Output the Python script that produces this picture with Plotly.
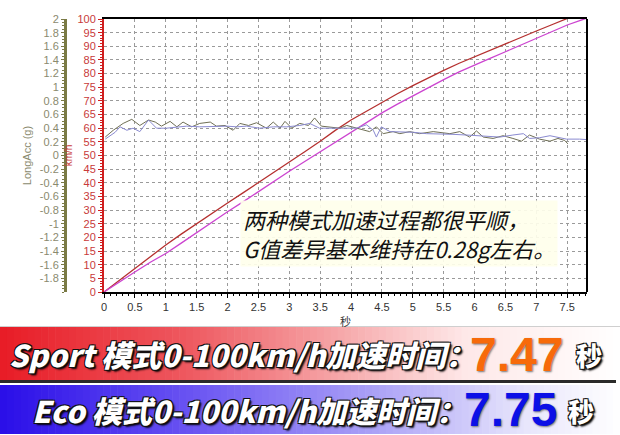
import plotly.graph_objects as go

# ---------------- data ----------------
t_speed = [0, 0.25, 0.5, 0.75, 1.0, 1.25, 1.5, 1.75, 2.0, 2.25, 2.5, 2.75, 3.0, 3.25, 3.5, 3.75,
           4.0, 4.25, 4.5, 4.75, 5.0, 5.25, 5.5, 5.75, 6.0, 6.25, 6.5, 6.75, 7.0, 7.25, 7.5, 7.75, 7.85]
speed_sport = [0, 4.3, 8.7, 13.0, 17.2, 21.2, 25.1, 28.9, 32.6, 36.3, 40.0, 43.7, 47.5, 51.4, 55.2, 59.3,
               63.0, 66.3, 69.4, 72.6, 75.6, 78.5, 81.2, 83.8, 86.2, 88.6, 91.0, 93.3, 95.6, 97.9, 100.2, 102.5, 103.4]
speed_eco = [0, 3.5, 7.3, 10.9, 14.1, 17.9, 21.8, 25.7, 29.4, 33.0, 36.8, 40.6, 44.2, 47.8, 51.4, 55.0,
             58.5, 62.1, 65.6, 68.8, 71.9, 74.9, 77.8, 80.6, 83.2, 85.6, 88.0, 90.5, 92.9, 95.4, 97.8, 99.8, 100.6]

t_g_gray = [0.02, 0.15, 0.31, 0.45, 0.58, 0.72, 0.83, 0.93, 1.07, 1.18, 1.28, 1.42, 1.55, 1.72, 1.82, 1.96,
            2.09, 2.20, 2.34, 2.47, 2.63, 2.74, 2.85, 2.93, 3.04, 3.17, 3.31, 3.41, 3.52, 3.66, 3.82, 3.93,
            4.09, 4.20, 4.30, 4.41, 4.52, 4.68, 4.79, 4.95, 5.11, 5.33, 5.60, 5.76, 5.92, 6.03, 6.14, 6.30,
            6.46, 6.62, 6.76, 6.89, 7.05, 7.22, 7.35, 7.46, 7.51]
g_gray = [0.27, 0.37, 0.47, 0.53, 0.44, 0.52, 0.49, 0.43, 0.50, 0.42, 0.49, 0.42, 0.47, 0.49, 0.43, 0.44,
          0.37, 0.47, 0.44, 0.48, 0.40, 0.49, 0.40, 0.50, 0.40, 0.47, 0.44, 0.55, 0.43, 0.42, 0.40, 0.44,
          0.40, 0.37, 0.35, 0.42, 0.32, 0.35, 0.32, 0.35, 0.32, 0.35, 0.32, 0.35, 0.27, 0.36, 0.27, 0.25,
          0.29, 0.25, 0.21, 0.30, 0.24, 0.21, 0.25, 0.22, 0.17]

t_g_blue = [0.02, 0.18, 0.26, 0.37, 0.47, 0.58, 0.72, 0.85, 1.01, 1.18, 1.34, 1.55, 1.77, 1.99, 2.15, 2.31,
            2.52, 2.74, 2.96, 3.17, 3.33, 3.49, 3.71, 3.93, 4.09, 4.25, 4.36, 4.41, 4.49, 4.63, 4.79, 5.01,
            5.22, 5.44, 5.65, 5.87, 6.03, 6.19, 6.41, 6.62, 6.79, 6.89, 7.05, 7.22, 7.38, 7.49, 7.70, 7.86]
g_blue = [0.24, 0.34, 0.42, 0.37, 0.40, 0.35, 0.52, 0.40, 0.40, 0.42, 0.43, 0.42, 0.43, 0.43, 0.42, 0.43,
          0.40, 0.42, 0.42, 0.44, 0.47, 0.40, 0.40, 0.40, 0.40, 0.45, 0.37, 0.27, 0.42, 0.35, 0.35, 0.34,
          0.32, 0.32, 0.31, 0.30, 0.29, 0.29, 0.27, 0.30, 0.32, 0.25, 0.26, 0.29, 0.26, 0.24, 0.24, 0.23]

x_ticks = [0, 0.5, 1, 1.5, 2, 2.5, 3, 3.5, 4, 4.5, 5, 5.5, 6, 6.5, 7, 7.5]
x_labels = ["0", "0.5", "1", "1.5", "2", "2.5", "3", "3.5", "4", "4.5", "5", "5.5", "6", "6.5", "7", "7.5"]
speed_ticks = list(range(0, 101, 5))
g_ticks = [-1.8, -1.6, -1.4, -1.2, -1, -0.8, -0.6, -0.4, -0.2, 0, 0.2, 0.4, 0.6, 0.8, 1, 1.2, 1.4, 1.6, 1.8, 2]
g_labels = ["-1.8", "-1.6", "-1.4", "-1.2", "-1", "-0.8", "-0.6", "-0.4", "-0.2", "0",
            "0.2", "0.4", "0.6", "0.8", "1", "1.2", "1.4", "1.6", "1.8", "2"]

note_text = "两种模式加速过程都很平顺，<br>G值差异基本维持在0.28g左右。"
sport_label = "Sport 模式0-100km/h加速时间："
eco_label = "Eco 模式0-100km/h加速时间："
sport_time = "7.47"
eco_time = "7.75"
unit = "秒"

# ---------------- layout helpers ----------------
W, H = 620, 435
def px(x):
    return x / W
def py(y):
    return 1 - y / H

fig = go.Figure()

fig.add_trace(go.Scatter(x=t_g_gray, y=g_gray, yaxis="y2", mode="lines",
                         line=dict(color="#6f6f55", width=1), showlegend=False))
fig.add_trace(go.Scatter(x=t_g_blue, y=g_blue, yaxis="y2", mode="lines",
                         line=dict(color="#8a8ad0", width=1), showlegend=False))
fig.add_trace(go.Scatter(x=t_speed, y=speed_sport, mode="lines",
                         line=dict(color="#b5302f", width=1.3), showlegend=False))
fig.add_trace(go.Scatter(x=t_speed, y=speed_eco, mode="lines",
                         line=dict(color="#cc44d0", width=1.3), showlegend=False))

x_dom = [px(104), px(587)]
y_dom = [py(292), py(19)]

fig.update_layout(
    width=W, height=H,
    margin=dict(l=0, r=0, t=0, b=0),
    paper_bgcolor="white", plot_bgcolor="white",
    font=dict(family="Liberation Sans, Arial", size=11, color="#333"),
    xaxis=dict(domain=x_dom, range=[0, 7.82], tickvals=x_ticks, ticktext=x_labels, automargin=False,
               showline=True, linecolor="black", linewidth=2, mirror=True,
               ticks="outside", ticklen=4, tickcolor="black",
               minor=dict(dtick=0.1, ticks="outside", ticklen=2, tickcolor="black", showgrid=False),
               showgrid=True, gridcolor="#9a9a9a", gridwidth=1, griddash="3px,3px",
               zeroline=False, tickfont=dict(size=11, color="#333"),
               title=dict(text="秒", font=dict(family="Noto Sans CJK SC", size=11, color="#333"), standoff=4)),
    yaxis=dict(domain=y_dom, range=[0, 100], tickvals=speed_ticks, automargin=False,
               showline=True, linecolor="#d02020", linewidth=2,
               ticks="outside", ticklen=4, tickcolor="#d02020",
               minor=dict(dtick=1, ticks="outside", ticklen=2, tickcolor="#d02020", showgrid=False),
               showgrid=True, gridcolor="#9a9a9a", gridwidth=1, griddash="3px,3px",
               zeroline=False, tickfont=dict(size=11, color="#c83a3a"),
               title=dict(text="km/h", font=dict(size=10, color="#c83a3a"), standoff=3)),
    yaxis2=dict(overlaying="y", anchor="free", position=px(65), side="left", automargin=False,
                range=[-2, 2], tickvals=g_ticks, ticktext=g_labels,
                showline=True, linecolor="#7a7a45", linewidth=3,
                ticks="outside", ticklen=3, tickcolor="#7a7a45",
                minor=dict(dtick=0.05, ticks="outside", ticklen=2, tickcolor="#7a7a45", showgrid=False),
                showgrid=False, zeroline=False, tickfont=dict(size=11, color="#8a8a6e"),
                title=dict(text="LongAcc (g)", font=dict(size=11, color="#8a8a6e"), standoff=4)),
)

shapes = []
# right border of plot area
shapes.append(dict(type="line", xref="x domain", yref="y domain", x0=1, x1=1, y0=0, y1=1,
                   line=dict(color="black", width=2)))

# gradient banners
def lerp_stops(stops, f):
    for (f0, c0), (f1, c1) in zip(stops[:-1], stops[1:]):
        if f0 <= f <= f1:
            k = (f - f0) / (f1 - f0) if f1 > f0 else 0
            return tuple(int(round(a + (b - a) * k)) for a, b in zip(c0, c1))
    return stops[-1][1]

sport_stops = [(0, (232, 28, 38)), (0.3, (238, 88, 95)), (0.55, (246, 168, 170)),
               (0.75, (254, 232, 232)), (1.0, (255, 255, 255))]
eco_stops = [(0, (42, 14, 232)), (0.3, (104, 82, 242)), (0.6, (170, 160, 246)),
             (0.85, (232, 230, 252)), (1.0, (255, 255, 255))]
N = 90
for i in range(N):
    x0 = W * i / N
    x1 = W * (i + 1) / N + 0.6
    f = (i + 0.5) / N
    c = lerp_stops(sport_stops, f)
    shapes.append(dict(type="rect", xref="paper", yref="paper", x0=px(x0), x1=px(x1),
                       y0=py(380), y1=py(327), fillcolor="rgb(%d,%d,%d)" % c, line=dict(width=0)))
    c = lerp_stops(eco_stops, f)
    shapes.append(dict(type="rect", xref="paper", yref="paper", x0=px(x0), x1=px(x1),
                       y0=py(434), y1=py(385), fillcolor="rgb(%d,%d,%d)" % c, line=dict(width=0)))
shapes.append(dict(type="rect", xref="paper", yref="paper", x0=0, x1=px(616),
                   y0=py(383), y1=py(380), fillcolor="#2a2a2a", line=dict(width=0)))
shapes.append(dict(type="line", xref="paper", yref="paper", x0=0, x1=1,
                   y0=py(326.5), y1=py(326.5), line=dict(color="#cfcfcf", width=1)))
fig.update_layout(shapes=shapes)

outline = ("-1px -1px 0 #111, 1px -1px 0 #111, -1px 1px 0 #111, 1px 1px 0 #111, "
           "2px 2px 2px #000")
sport_font = dict(family="Noto Sans CJK SC", size=30, color="white", weight=900, style="italic",
                  shadow=outline)
eco_font = dict(family="Noto Sans CJK SC", size=30, color="white", weight=900, style="italic",
                shadow=outline)
unit_font = dict(family="Noto Sans CJK SC", size=26, color="white", weight=900, shadow=outline)
num_shadow = "1px 1px 2px #777"

annotations = [
    dict(text=note_text, xref="paper", yref="paper", x=px(240), y=py(234), xanchor="left",
         yanchor="middle", align="left", showarrow=False,
         font=dict(family="Noto Sans CJK SC", size=22, color="#111", style="italic"),
         bgcolor="rgba(255,255,236,0.92)", borderpad=2),
    dict(text=sport_label, xref="paper", yref="paper", x=px(7), y=py(354), xanchor="left",
         yanchor="middle", showarrow=False, font=sport_font),
    dict(text=sport_time, xref="paper", yref="paper", x=px(468), y=py(354), xanchor="left",
         yanchor="middle", showarrow=False,
         font=dict(family="Liberation Sans, Arial", size=48, color="#f76a0a", weight="bold",
                   shadow=num_shadow)),
    dict(text=unit, xref="paper", yref="paper", x=px(574), y=py(354), xanchor="left",
         yanchor="middle", showarrow=False, font=unit_font),
    dict(text=eco_label, xref="paper", yref="paper", x=px(30), y=py(410), xanchor="left",
         yanchor="middle", showarrow=False, font=eco_font),
    dict(text=eco_time, xref="paper", yref="paper", x=px(462), y=py(409), xanchor="left",
         yanchor="middle", showarrow=False,
         font=dict(family="Liberation Sans, Arial", size=48, color="#0c10e6", weight="bold",
                   shadow=num_shadow)),
    dict(text=unit, xref="paper", yref="paper", x=px(566), y=py(410), xanchor="left",
         yanchor="middle", showarrow=False, font=unit_font),
]
fig.update_layout(annotations=annotations)

fig.write_html("out.html", config={"displayModeBar": False},
               post_script="document.body.style.margin='0';")
